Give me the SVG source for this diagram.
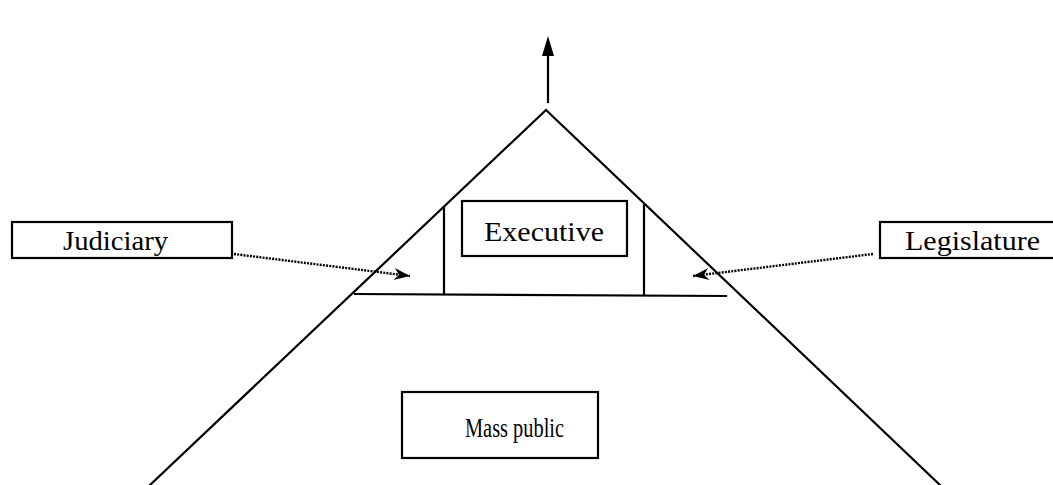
<svg xmlns="http://www.w3.org/2000/svg" width="1053" height="485" viewBox="0 0 1053 485">
  <style>
    .line { stroke: #000; stroke-width: 2.2; fill: none; stroke-linecap: square; }
    .box rect { fill: #fff; stroke: #000; stroke-width: 2.2; }
    .box text { font-family: "Liberation Serif", "Times New Roman", serif; font-size: 28px; fill: #000; }
    .dotted { stroke: #000; stroke-width: 2.4; fill: none; stroke-dasharray: 2 1.2; }
  </style>
  <defs>
    <marker id="upHead" viewBox="0 0 20 12" refX="0" refY="6" markerWidth="20" markerHeight="12" markerUnits="userSpaceOnUse" orient="auto">
      <path d="M0,0 L20,6 L0,12 Z" fill="#000"/>
    </marker>
    <marker id="barb" viewBox="0 0 16 12" refX="16" refY="6" markerWidth="16" markerHeight="12" markerUnits="userSpaceOnUse" orient="auto">
      <path d="M0,0 L16,6 L0,12 L5,6 Z" fill="#000"/>
    </marker>
  </defs>

  <!-- pyramid outline and inner partitions -->
  <g id="pyramid">
    <polyline class="line" points="150,485 546,110 940,485"/>
    <line class="line" x1="355" y1="294" x2="726" y2="296"/>
    <line class="line" x1="444" y1="207" x2="444" y2="294"/>
    <line class="line" x1="644" y1="205" x2="644" y2="295"/>
  </g>

  <g id="connectors">
    <line class="line" x1="548" y1="102" x2="548" y2="56" marker-end="url(#upHead)"/>
    <line class="dotted" x1="234" y1="254" x2="410" y2="276" marker-end="url(#barb)"/>
    <line class="dotted" x1="873" y1="254" x2="693" y2="276" marker-end="url(#barb)"/>
  </g>

  <g id="executive" class="box">
    <rect x="462" y="201" width="165" height="55"/>
    <text x="484" y="241" textLength="120" lengthAdjust="spacingAndGlyphs">Executive</text>
  </g>
  <g id="judiciary" class="box">
    <rect x="12" y="222" width="220" height="36"/>
    <text x="63" y="250" textLength="105" lengthAdjust="spacingAndGlyphs">Judiciary</text>
  </g>
  <g id="legislature" class="box">
    <rect x="880" y="222" width="180" height="36"/>
    <text x="905" y="250" textLength="135" lengthAdjust="spacingAndGlyphs">Legislature</text>
  </g>
  <g id="mass-public" class="box">
    <rect x="402" y="392" width="196" height="66"/>
    <text x="465" y="437" font-size="26" textLength="99" lengthAdjust="spacingAndGlyphs">Mass public</text>
  </g>
</svg>
